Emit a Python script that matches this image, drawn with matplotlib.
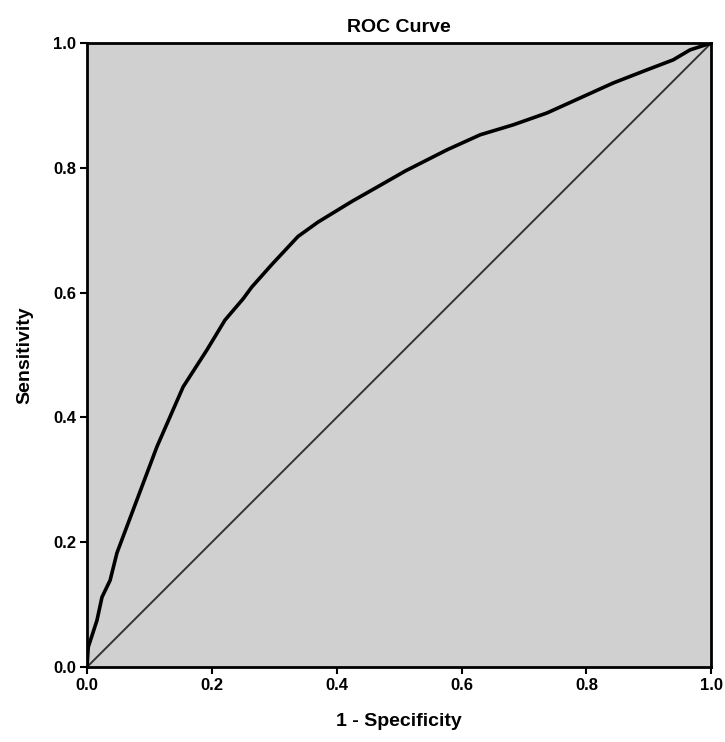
import numpy as np
import matplotlib
matplotlib.use("Agg")
import matplotlib.pyplot as plt

# ROC curve points
fpr = [0.0, 0.002, 0.016, 0.024, 0.037, 0.048, 0.08, 0.112, 0.154, 0.192,
       0.221, 0.25, 0.264, 0.296, 0.338, 0.37, 0.424, 0.461, 0.51, 0.577,
       0.63, 0.683, 0.737, 0.79, 0.843, 0.897, 0.939, 0.966, 1.0]
tpr = [0.0, 0.032, 0.075, 0.112, 0.139, 0.183, 0.268, 0.353, 0.449, 0.508,
       0.556, 0.59, 0.609, 0.645, 0.69, 0.713, 0.746, 0.767, 0.795, 0.829,
       0.853, 0.869, 0.888, 0.912, 0.936, 0.957, 0.973, 0.989, 1.0]

# reference line
ref = [0.0, 1.0]

ticks = [0.0, 0.2, 0.4, 0.6, 0.8, 1.0]
tick_labels = ["0.0", "0.2", "0.4", "0.6", "0.8", "1.0"]

plt.rcParams['font.family'] = ['Liberation Sans', 'DejaVu Sans']

fig = plt.figure(figsize=(7.25, 7.42), dpi=100)
ax = fig.add_axes([0.12, 0.101, 0.861, 0.841])
ax.set_facecolor('#d0d0d0')

ax.plot(ref, ref, color='#333333', linewidth=1.4)
ax.plot(fpr, tpr, color='black', linewidth=2.6, solid_joinstyle='round')

ax.set_xlim(0, 1)
ax.set_ylim(0, 1)
ax.set_xticks(ticks)
ax.set_xticklabels(tick_labels)
ax.set_yticks(ticks)
ax.set_yticklabels(tick_labels)
ax.tick_params(direction='out', length=5, width=1.5, labelsize=12, pad=3)
for lbl in ax.get_xticklabels() + ax.get_yticklabels():
    lbl.set_fontweight('bold')

for s in ax.spines.values():
    s.set_linewidth(2)
    s.set_color('black')

ax.set_title("ROC Curve", fontsize=14, fontweight='bold', pad=8)
ax.set_xlabel("1 - Specificity", fontsize=14, fontweight='bold', labelpad=14)
ax.set_ylabel("Sensitivity", fontsize=14, fontweight='bold', labelpad=14)

fig.savefig("out.png", dpi=100)
plt.close(fig)
